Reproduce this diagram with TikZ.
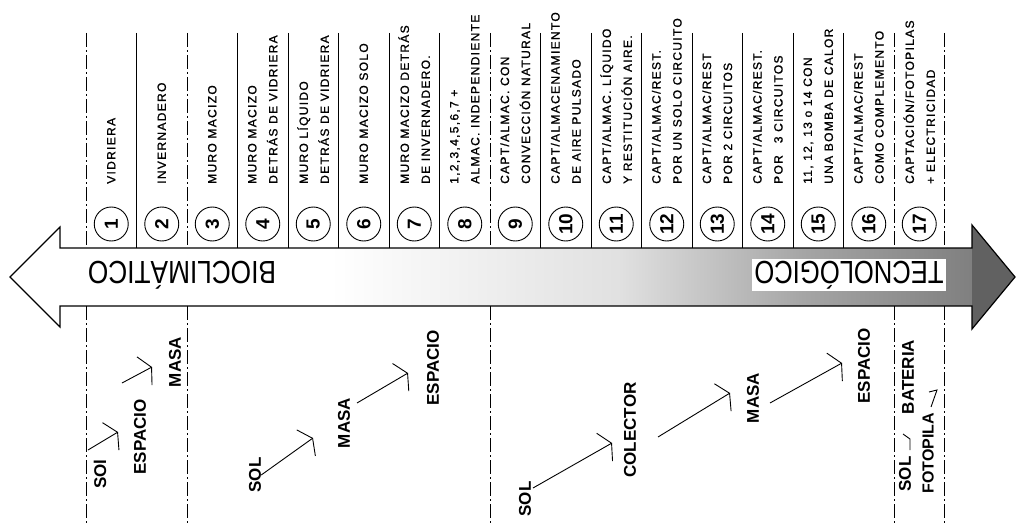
\documentclass[tikz,border=0pt]{standalone}
\usepackage{fontspec}
\setmainfont{Liberation Sans}
\newfontfamily\hand[LetterSpace=11,FakeBold=1.2]{Liberation Sans}
\usetikzlibrary{arrows.meta,calc}
\begin{document}
\begin{tikzpicture}[x=1pt,y=-1pt,
  phase/.style={line width=1pt, dash pattern=on 14pt off 3pt on 2pt off 3pt},
  sep/.style={line width=0.8pt},
  coltext/.style={rotate=90, anchor=west, align=left, inner sep=0pt,
    font=\hand\fontsize{12}{21}\selectfont},
  numcirc/.style={circle, draw, line width=0.9pt, minimum size=34pt, inner sep=0pt,
    rotate=90, font=\bfseries\fontsize{19}{19}\selectfont},
  lab/.style={rotate=90, inner sep=0pt, font=\bfseries\fontsize{17}{17}\selectfont},
  big/.style={rotate=180, inner sep=2pt, font=\fontsize{32}{32}\selectfont},
  barb/.style={line width=0.9pt, -{Straight Barb[length=8pt, width=32pt, line width=0.9pt]}}
]
\useasboundingbox (0,0) rectangle (1017,532);

% ---- big arrow ----
\def\arrowpath{(10,277) -- (60,227) -- (60,248) -- (972,248) -- (972,225) -- (1015,277) -- (972,329) -- (972,306) -- (60,306) -- (60,327) -- cycle}
\begin{scope}
  \clip \arrowpath;
  \fill[white] (0,220) rectangle (331,340);
  \shade[left color=white, right color=black!12] (330,220) rectangle (621,340);
  \shade[left color=black!12, right color=black!35] (620,220) rectangle (801,340);
  \shade[left color=black!35, right color=black!50] (800,220) rectangle (973,340);
  \fill[black!62] (972,220) rectangle (1017,340);
\end{scope}
\node[big, fill=white] (tec) at (849,275) {\scalebox{0.8}[1]{TECNOLÓGICO}};
\node[big] (bio) at (182,275) {\scalebox{0.82}[1]{BIOCLIMÁTICO}};
\draw[line width=1.2pt, line join=miter] \arrowpath;

% ---- column separators ----
\foreach \i in {0,...,17}{
  \pgfmathsetmacro\xx{86+50.5*\i}
  \coordinate (s\i) at (\xx,33);
  \coordinate (b\i) at (\xx,248);
}
\foreach \i in {1,3,4,5,6,7,9,10,11,12,13,14,15}{
  \draw[sep] (s\i) -- (b\i);
}
\foreach \i in {0,2,8,16,17}{
  \draw[phase] (s\i) -- (b\i);
}
% lower dash-dot lines
\foreach \i in {0,2,8,16,17}{
  \pgfmathsetmacro\xx{86+50.5*\i}
  \coordinate (u\i) at (\xx,306);
  \coordinate (d\i) at (\xx,524);
  \draw[phase] (u\i) -- (d\i);
}

% ---- numbered circles ----
\foreach \i in {1,...,17}{
  \pgfmathsetmacro\xx{86+50.5*(\i-0.5)}
  \node[numcirc, fill=white] (c\i) at (\xx,224) {\i};
}

% ---- column texts ----
\node[coltext] (t1) at (111.25,184) {VIDRIERA};
\node[coltext] (t2) at (161.75,184) {INVERNADERO};
\node[coltext] (t3) at (212.25,184) {MURO MACIZO};
\node[coltext] (t4) at (262.75,184) {MURO MACIZO\\DETRÁS DE VIDRIERA};
\node[coltext] (t5) at (313.25,184) {MURO LÍQUIDO\\DETRÁS DE VIDRIERA};
\node[coltext] (t6) at (363.75,184) {MURO MACIZO SOLO};
\node[coltext] (t7) at (414.25,184) {MURO MACIZO DETRÁS\\DE INVERNADERO.};
\node[coltext] (t8) at (464.75,184) {1,2,3,4,5,6,7 +\\ALMAC. INDEPENDIENTE};
\node[coltext] (t9) at (515.25,184) {CAPT/ALMAC. CON\\CONVECCIÓN NATURAL};
\node[coltext] (t10) at (565.75,184) {CAPT/ALMACENAMIENTO\\DE AIRE PULSADO};
\node[coltext] (t11) at (616.25,184) {CAPT/ALMAC. LÍQUIDO\\Y RESTITUCIÓN AIRE.};
\node[coltext] (t12) at (666.75,184) {CAPT/ALMAC/REST.\\POR UN SOLO CIRCUITO};
\node[coltext] (t13) at (717.25,184) {CAPT/ALMAC/REST\\POR 2 CIRCUITOS};
\node[coltext] (t14) at (767.75,184) {CAPT/ALMAC/REST.\\POR\hspace{1em}3 CIRCUITOS};
\node[coltext] (t15) at (818.25,184) {11, 12, 13 o 14 CON\\UNA BOMBA DE CALOR};
\node[coltext] (t16) at (868.75,184) {CAPT/ALMAC/REST\\COMO COMPLEMENTO};
\node[coltext] (t17) at (919.25,184) {CAPTACIÓN/FOTOPILAS\\+ ELECTRICIDAD};

% ---- lower labels ----
\node[lab] (sol1) at (100,474) {SOl};
\node[lab] (esp1) at (140,437) {ESPACIO};
\node[lab] (mas1) at (175,362) {MASA};
\node[lab] (sol2) at (255,475) {SOL};
\node[lab] (mas2) at (344,423) {MASA};
\node[lab] (esp2) at (433,368) {ESPACIO};
\node[lab] (sol3) at (525,499) {SOL};
\node[lab] (col) at (630,430) {COLECTOR};
\node[lab] (mas3) at (753,398) {MASA};
\node[lab] (esp3) at (864,366) {ESPACIO};
\node[lab] (sol4) at (905,474) {SOL};
\node[lab] (bat) at (908,377) {BATERIA};
\node[lab, font=\bfseries\fontsize{16}{16}\selectfont] (foto) at (928,453) {FOTOPILA};

% arrow ends
\coordinate (a1s) at (88,450);  \coordinate (a1e) at (118,432);
\coordinate (a2s) at (122,383); \coordinate (a2e) at (152,367);
\coordinate (a3e) at (313,438);
\coordinate (a4s) at (357,403); \coordinate (a4e) at (408,373);
\coordinate (a5s) at (533,488); \coordinate (a5e) at (612,443);
\coordinate (a6s) at (658,437); \coordinate (a6e) at (730,393);
\coordinate (a7s) at (770,403); \coordinate (a7e) at (842,363);
\draw[barb] (a1s) -- (a1e);
\draw[barb] (a2s) -- (a2e);
\draw[barb] (sol2.south) -- (a3e);
\draw[barb] (a4s) -- (a4e);
\draw[barb] (a5s) -- (a5e);
\draw[barb] (a6s) -- (a6e);
\draw[barb] (a7s) -- (a7e);
% small barbs without shaft
\coordinate (k1) at (910,439);
\draw[line width=0.9pt] (903,434) -- (k1) -- (910,450);
\coordinate (k2) at (937,390);
\draw[line width=0.9pt] (929,392) -- (k2) -- (931,407);
\end{tikzpicture}
\end{document}
